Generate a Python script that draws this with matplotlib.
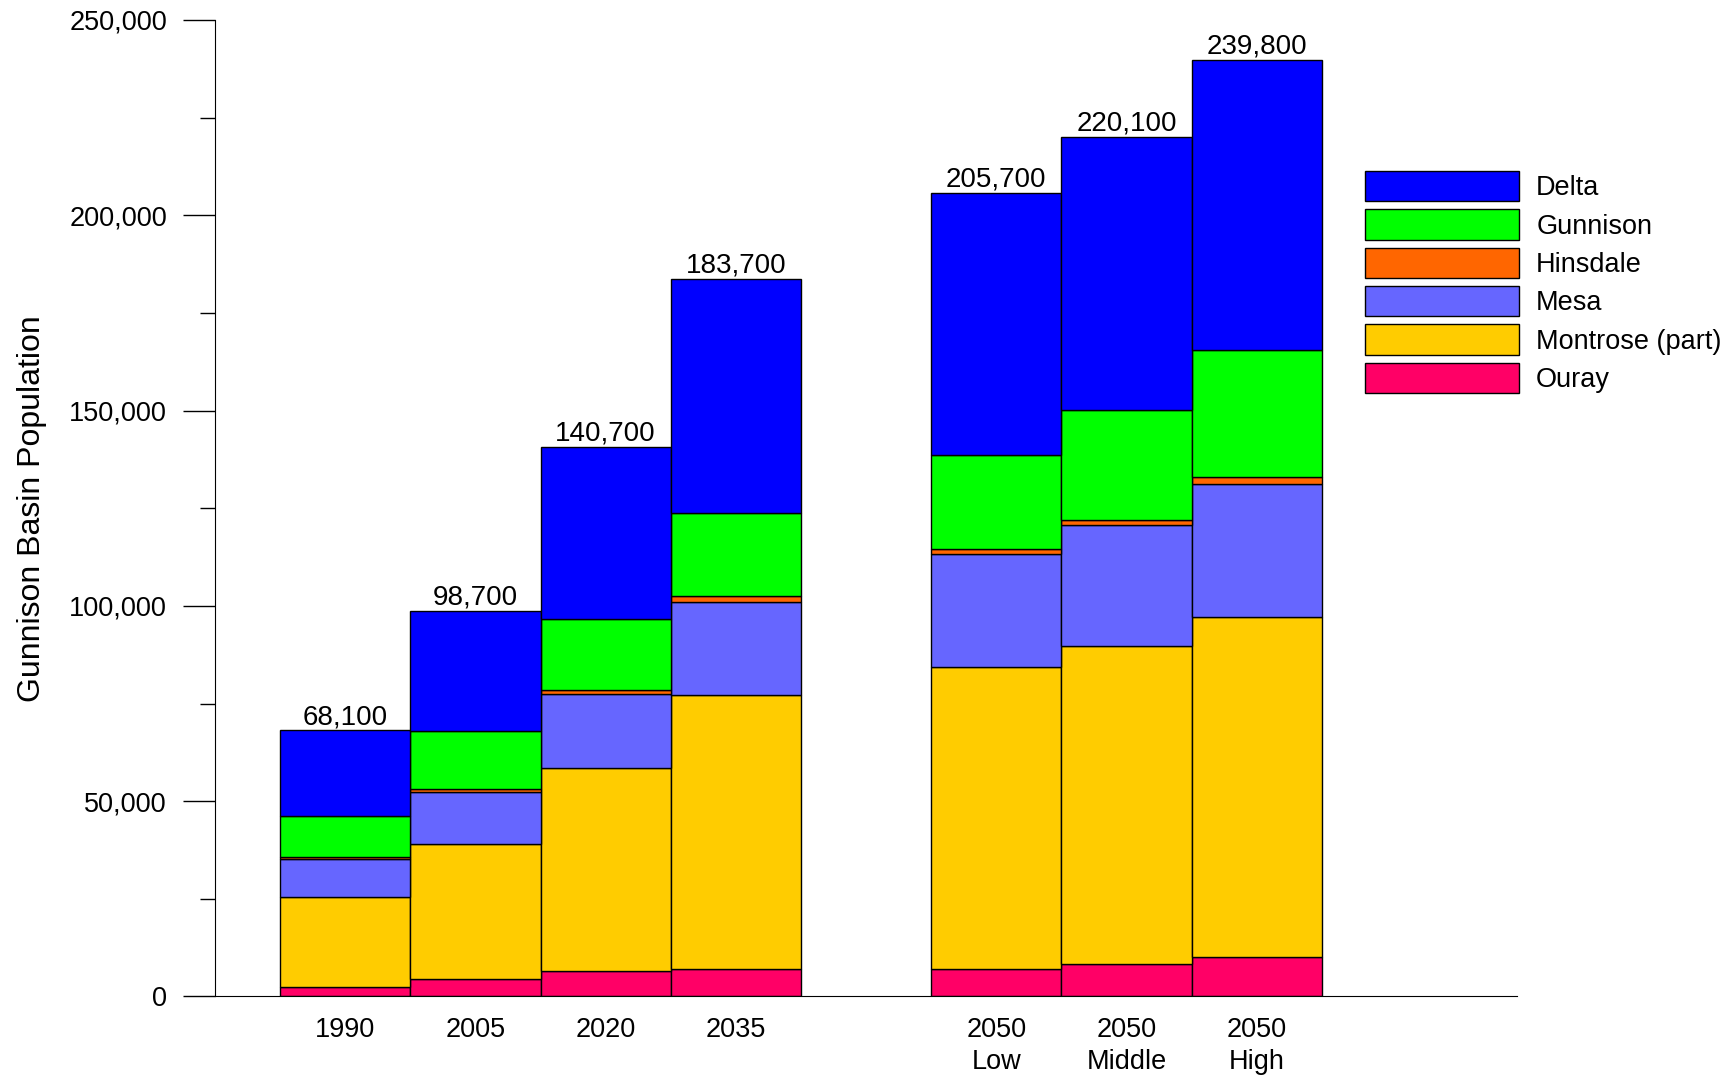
import numpy as np
import matplotlib.pyplot as plt
from matplotlib.ticker import MultipleLocator, FuncFormatter

plt.rcParams['font.family'] = ['Liberation Sans', 'DejaVu Sans']

# periods (slot 4 is left empty as a gap)
labels = ['1990', '2005', '2020', '2035', '2050\nLow', '2050\nMiddle', '2050\nHigh']
slots = [0, 1, 2, 3, 5, 6, 7]

ouray    = [2400, 4400, 6500, 7100, 7000, 8400, 10200]
montrose = [23000, 34600, 52100, 70000, 77400, 81400, 86900]
mesa     = [9700, 13300, 18900, 24000, 28800, 30800, 34200]
hinsdale = [500, 800, 1000, 1400, 1400, 1500, 1800]
gunnison = [10600, 14800, 18100, 21200, 24100, 28000, 32500]
delta    = [21900, 30800, 44100, 60000, 67000, 70000, 74200]

totals = ['68,100', '98,700', '140,700', '183,700', '205,700', '220,100', '239,800']

# bottom to top
series = [
    ('Ouray', ouray, '#FF0066'),
    ('Montrose (part)', montrose, '#FFCC00'),
    ('Mesa', mesa, '#6666FF'),
    ('Hinsdale', hinsdale, '#FF6600'),
    ('Gunnison', gunnison, '#00FF00'),
    ('Delta', delta, '#0000FF'),
]

fs = 19.5

fig = plt.figure(figsize=(17.36, 10.76), dpi=100)
ax = fig.add_axes([0.1238, 0.0739, 0.7502, 0.9076])

bottom = np.zeros(len(slots))
handles = []
for name, vals, col in series:
    b = ax.bar(slots, vals, width=1.0, bottom=bottom, color=col,
               edgecolor='black', linewidth=1.0, label=name)
    handles.append(b)
    bottom += np.array(vals)

for x, top, txt in zip(slots, bottom, totals):
    ax.text(x, top, txt, ha='center', va='bottom', fontsize=20)

ax.set_xlim(-1, 9)
ax.set_ylim(0, 250000)
ax.set_xticks(slots)
ax.set_xticklabels(labels, fontsize=fs, linespacing=1.3)
ax.tick_params(axis='x', length=0, pad=15)

ax.yaxis.set_major_locator(MultipleLocator(50000))
ax.yaxis.set_minor_locator(MultipleLocator(25000))
ax.yaxis.set_major_formatter(FuncFormatter(lambda v, p: f'{int(v):,}'))
ax.tick_params(axis='y', which='major', length=23, width=1, labelsize=fs, pad=11.5)
ax.tick_params(axis='y', which='minor', length=11, width=1)

ax.spines['top'].set_visible(False)
ax.spines['right'].set_visible(False)
ax.set_ylabel('Gunnison Basin Population', fontsize=23, labelpad=16)

ax.legend(handles[::-1], [s[0] for s in series][::-1], loc='upper left',
          bbox_to_anchor=(1365 / 1736, 1 - 171 / 1076), bbox_transform=fig.transFigure,
          frameon=False, fontsize=fs, handlelength=5.7, handleheight=1.34,
          labelspacing=0.3, handletextpad=0.62, borderpad=0, borderaxespad=0)

fig.savefig('out.png', dpi=100)
